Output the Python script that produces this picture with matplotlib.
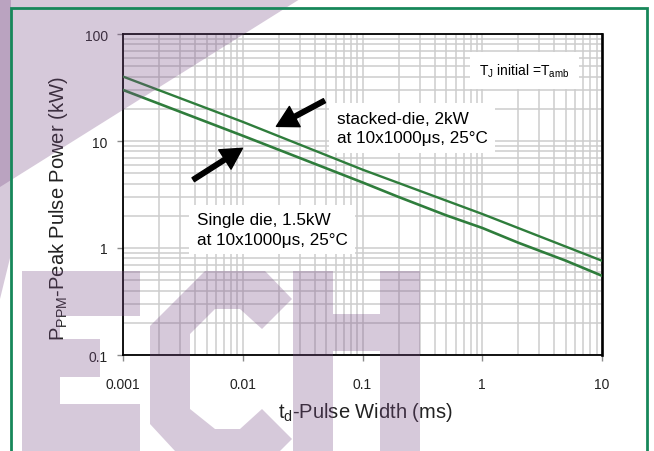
import matplotlib
matplotlib.use('Agg')
import matplotlib.pyplot as plt
from matplotlib.patches import Polygon, Rectangle
from matplotlib.ticker import LogLocator, NullFormatter, FixedLocator, FixedFormatter

plt.rcParams['font.family'] = ['Liberation Sans', 'DejaVu Sans']
plt.rcParams['mathtext.fontset'] = 'custom'
plt.rcParams['mathtext.rm'] = 'Liberation Sans'
plt.rcParams['mathtext.it'] = 'Liberation Sans'

# pulse width (ms) vs peak pulse power (kW)
width_stacked = [0.001, 0.01, 0.1, 1, 10]
power_stacked = [40, 15.1, 5.4, 2.08, 0.76]
width_single = [0.001, 0.01, 0.1, 0.2, 0.5, 1, 2, 5, 10]
power_single = [30, 11.2, 4.1, 3.0, 2.02, 1.54, 1.12, 0.76, 0.55]

x_ticks = [0.001, 0.01, 0.1, 1, 10]
x_tick_labels = ['0.001', '0.01', '0.1', '1', '10']
y_ticks = [0.1, 1, 10, 100]
y_tick_labels = ['0.1', '1', '10', '100']

W, H = 654, 452
green = '#2f7d3c'

fig = plt.figure(figsize=(W / 100, H / 100), dpi=100)
ax = fig.add_axes([123 / W, 1 - 356 / H, (602 - 123) / W, (356 - 35) / H])

ax.plot(width_stacked, power_stacked, color=green, lw=1.7, zorder=3)
ax.plot(width_single, power_single, color=green, lw=1.9, zorder=3)

ax.set_xscale('log')
ax.set_yscale('log')
ax.set_xlim(0.001, 10)
ax.set_ylim(0.1, 100)

ax.xaxis.set_major_locator(FixedLocator(x_ticks))
ax.xaxis.set_major_formatter(FixedFormatter(x_tick_labels))
ax.yaxis.set_major_locator(FixedLocator(y_ticks))
ax.yaxis.set_major_formatter(FixedFormatter(y_tick_labels))
ax.xaxis.set_minor_locator(LogLocator(base=10, subs=range(2, 10), numticks=20))
ax.yaxis.set_minor_locator(LogLocator(base=10, subs=range(2, 10), numticks=20))
ax.xaxis.set_minor_formatter(NullFormatter())
ax.yaxis.set_minor_formatter(NullFormatter())

ax.tick_params(which='major', length=4, width=1, color='#8c8c8c', labelsize=10,
               labelcolor='#222222')
ax.tick_params(axis='x', which='major', pad=12)
ax.tick_params(axis='y', which='major', pad=7)
ax.tick_params(which='minor', length=0)

ax.grid(True, which='both', color='#cdcdcd', linewidth=1.1, zorder=0)
ax.set_axisbelow(True)
for side in ['left', 'bottom', 'top']:
    ax.spines[side].set_linewidth(1.3)
    ax.spines[side].set_color('black')
ax.spines['right'].set_linewidth(1.9)

# annotations
box = dict(facecolor='white', edgecolor='none', boxstyle='square,pad=0.45')
ax.text(0.0607, 13.2, 'stacked-die, 2kW\nat 10x1000\u03bcs, 25\u00b0C', fontsize=12.3,
        ha='left', va='center', linespacing=1.35, bbox=box, zorder=4)
ax.text(0.00411, 1.49, 'Single die, 1.5kW\nat 10x1000\u03bcs, 25\u00b0C', fontsize=12.3,
        ha='left', va='center', linespacing=1.35, bbox=box, zorder=4)
ax.text(0.944, 45.4, r'T$_\mathrm{J}$ initial =T$_\mathrm{amb}$', fontsize=10,
        ha='left', va='center', bbox=dict(facecolor='white', edgecolor='none',
                                          boxstyle='square,pad=0.7'), zorder=4)

arrow = dict(arrowstyle='simple,head_length=1.0,head_width=1.1,tail_width=0.22',
             fc='black', ec='black', mutation_scale=15, shrinkA=0, shrinkB=0)
ax.annotate('', xy=(0.0191, 13.7), xytext=(0.0481, 23.8), arrowprops=arrow, zorder=5)
ax.annotate('', xy=(0.00994, 8.55), xytext=(0.00386, 4.35), arrowprops=arrow, zorder=5)

fig.text(58 / W, 1 - 209 / H, r'P$_\mathrm{PPM}$-Peak Pulse Power (kW)', fontsize=14.5,
         rotation=90, ha='center', va='center', color='#222222')
fig.text(365 / W, 1 - 413 / H, r't$_\mathrm{d}$-Pulse Width (ms)', fontsize=14.5,
         ha='center', va='center', color='#222222')

# page frame
fig.add_artist(Rectangle((11 / W, -0.02), (647 - 11) / W, 1.02 - 9 / H,
                         transform=fig.transFigure, fill=False,
                         edgecolor='#17875a', lw=2, zorder=20))

# faint logo watermark over the page
logo = [
    [(0, 0), (300, 0), (0, 188)],
    [(0, 0), (11, 0), (11, 255), (0, 300)],
    [(22, 272), (140, 272), (140, 317), (60, 317), (60, 340), (100, 340),
     (100, 378), (60, 378), (60, 405), (140, 405), (140, 452), (22, 452)],
    [(205, 272), (265, 272), (292, 300), (262, 330), (240, 310), (215, 310),
     (190, 335), (190, 410), (215, 430), (240, 430), (262, 410), (292, 440),
     (280, 452), (175, 452), (150, 425), (150, 327)],
    [(293, 272), (333, 272), (333, 315), (380, 315), (380, 272), (420, 272),
     (420, 452), (380, 452), (380, 352), (333, 352), (333, 452), (293, 452)],
]
for shape in logo:
    pts = [(x / W, 1 - y / H) for x, y in shape]
    fig.add_artist(Polygon(pts, closed=True, transform=fig.transFigure,
                           facecolor='#7a4d86', edgecolor='none', alpha=0.3, zorder=15))

fig.savefig('out.png', dpi=100)
